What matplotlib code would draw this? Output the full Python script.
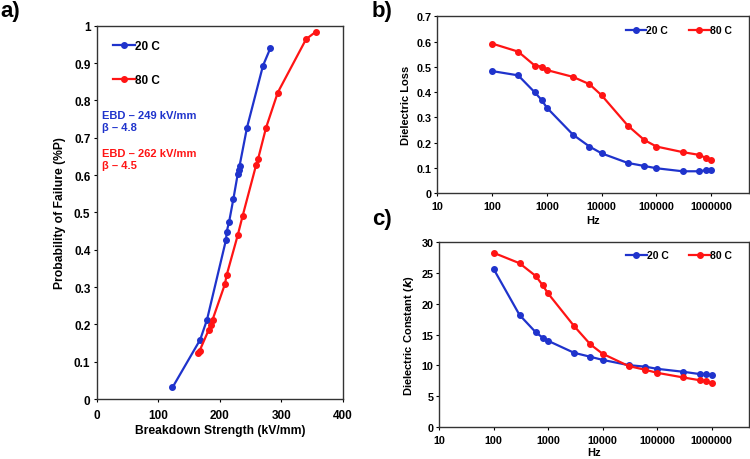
import matplotlib
matplotlib.use('Agg')
import matplotlib.pyplot as plt
from matplotlib.ticker import FixedLocator, FixedFormatter, NullLocator

plt.rcParams['font.family'] = ['Liberation Sans', 'DejaVu Sans']
plt.rcParams['font.weight'] = 'bold'

BLUE = '#1f33cc'
RED = '#ff1414'

# a) Weibull plot
bd_20 = [123, 168, 179, 210, 211, 215, 222, 229, 231, 232, 244, 270, 282]
pf_20 = [0.031, 0.159, 0.212, 0.427, 0.448, 0.475, 0.537, 0.603, 0.614, 0.625, 0.727, 0.893, 0.940]
bd_80 = [165, 167, 182, 185, 188, 208, 211, 229, 237, 259, 262, 275, 294, 340, 356]
pf_80 = [0.123, 0.129, 0.186, 0.198, 0.212, 0.307, 0.332, 0.439, 0.491, 0.628, 0.643, 0.727, 0.821, 0.964, 0.984]

# b), c) frequency sweeps
freq = [100, 300, 600, 800, 1000, 3000, 6000, 10000, 30000, 60000,
        100000, 300000, 600000, 800000, 1000000]
loss_20 = [0.483, 0.466, 0.399, 0.369, 0.338, 0.231, 0.184, 0.157, 0.119, 0.107,
           0.098, 0.086, 0.086, 0.090, 0.090]
loss_80 = [0.592, 0.560, 0.505, 0.501, 0.487, 0.460, 0.431, 0.387, 0.267, 0.210,
           0.184, 0.162, 0.151, 0.139, 0.131]
k_20 = [25.7, 18.2, 15.35, 14.5, 14.0, 12.05, 11.4, 10.9, 10.05, 9.8,
        9.45, 8.97, 8.6, 8.6, 8.4]
k_80 = [28.3, 26.6, 24.5, 23.0, 21.7, 16.4, 13.4, 11.9, 9.9, 9.3,
        8.8, 8.05, 7.6, 7.45, 7.1]

log_ticks = [10, 100, 1000, 10000, 100000, 1000000]

fig = plt.figure(figsize=(7.5, 4.6), dpi=100)

def style(ax, size, xpad, ypad):
    for s in ax.spines.values():
        s.set_linewidth(1.0)
        s.set_color('#333333')
    ax.tick_params(direction='out', length=2.5, width=0.8, labelsize=size)
    ax.tick_params(axis='x', pad=xpad)
    ax.tick_params(axis='y', pad=ypad)
    for t in ax.get_xticklabels() + ax.get_yticklabels():
        t.set_fontweight('bold')

kw = dict(lw=1.6, marker='o', ms=4)

# panel a
ax1 = fig.add_axes([0.129, 0.1304, 0.3284, 0.8116])
ax1.plot(bd_20, pf_20, color=BLUE, **kw)
ax1.plot(bd_80, pf_80, color=RED, **kw)
ax1.set_xlim(0, 400)
ax1.set_ylim(0, 1)
ax1.set_xticks([0, 100, 200, 300, 400])
yt = [i / 10 for i in range(11)]
ax1.set_yticks(yt)
ax1.set_yticklabels(['0'] + ['%.1f' % v for v in yt[1:-1]] + ['1'])
style(ax1, 8.5, 5, 2)
ax1.set_xlabel('Breakdown Strength (kV/mm)', fontsize=8.7, fontweight='bold', labelpad=2)
ax1.set_ylabel('Probability of Failure (%P)', fontsize=8.7, fontweight='bold', labelpad=6)
ax1.legend(['20 C', '80 C'], loc='upper left', bbox_to_anchor=(0.046, 0.975),
           frameon=False, fontsize=8.5, handlelength=1.85, handletextpad=0.0,
           labelspacing=1.86, borderaxespad=0)
ax1.text(0.02, 0.775, 'EBD \u2013 249 kV/mm\n\u03b2 \u2013 4.8', transform=ax1.transAxes,
         color=BLUE, fontsize=8, fontweight='bold', va='top', linespacing=1.3)
ax1.text(0.02, 0.673, 'EBD \u2013 262 kV/mm\n\u03b2 \u2013 4.5', transform=ax1.transAxes,
         color=RED, fontsize=8, fontweight='bold', va='top', linespacing=1.3)

def freq_panel(rect, y20, y80, ylim, yticks, ylabel, hzpad, legy):
    ax = fig.add_axes(rect)
    ax.plot(freq, y20, color=BLUE, label='20 C', **kw)
    ax.plot(freq, y80, color=RED, label='80 C', **kw)
    ax.set_xscale('log')
    ax.set_xlim(10, 4.9e6)
    ax.xaxis.set_major_locator(FixedLocator(log_ticks))
    ax.xaxis.set_major_formatter(FixedFormatter([str(v) for v in log_ticks]))
    ax.xaxis.set_minor_locator(NullLocator())
    ax.set_ylim(*ylim)
    ax.set_yticks(yticks)
    style(ax, 7.8, 3, 1.5)
    ax.set_xlabel('Hz', fontsize=8, fontweight='bold', labelpad=hzpad)
    ax.set_ylabel(ylabel, fontsize=8, fontweight='bold', labelpad=4)
    ax.legend(loc='upper right', bbox_to_anchor=(0.958, legy), ncol=2, frameon=False,
              fontsize=7.5, handlelength=2.0, handletextpad=0.0, columnspacing=2.0,
              borderaxespad=0)
    return ax

ax2 = freq_panel([0.583, 0.5783, 0.4157, 0.3841], loss_20, loss_80, (0, 0.7),
                 [0, 0.1, 0.2, 0.3, 0.4, 0.5, 0.6, 0.7], 'Dielectric Loss', 3, 0.973)
ax2.set_yticklabels(['0'] + ['%.1f' % v for v in [0.1, 0.2, 0.3, 0.4, 0.5, 0.6, 0.7]])
for t in ax2.get_yticklabels():
    t.set_fontweight('bold')

ax3 = freq_panel([0.5853, 0.0696, 0.4137, 0.4015], k_20, k_80, (0, 30),
                 [0, 5, 10, 15, 20, 25, 30],
                 'Dielectric Constant (' + r'$\mathbf{\mathit{k}}$' + ')', 1.5, 0.98)

fig.text(0.0, 0.975, 'a)', fontsize=16, fontweight='bold', va='center')
fig.text(0.496, 0.975, 'b)', fontsize=16, fontweight='bold', va='center')
fig.text(0.496, 0.522, 'c)', fontsize=16, fontweight='bold', va='center')

fig.savefig('out.png', dpi=100)
